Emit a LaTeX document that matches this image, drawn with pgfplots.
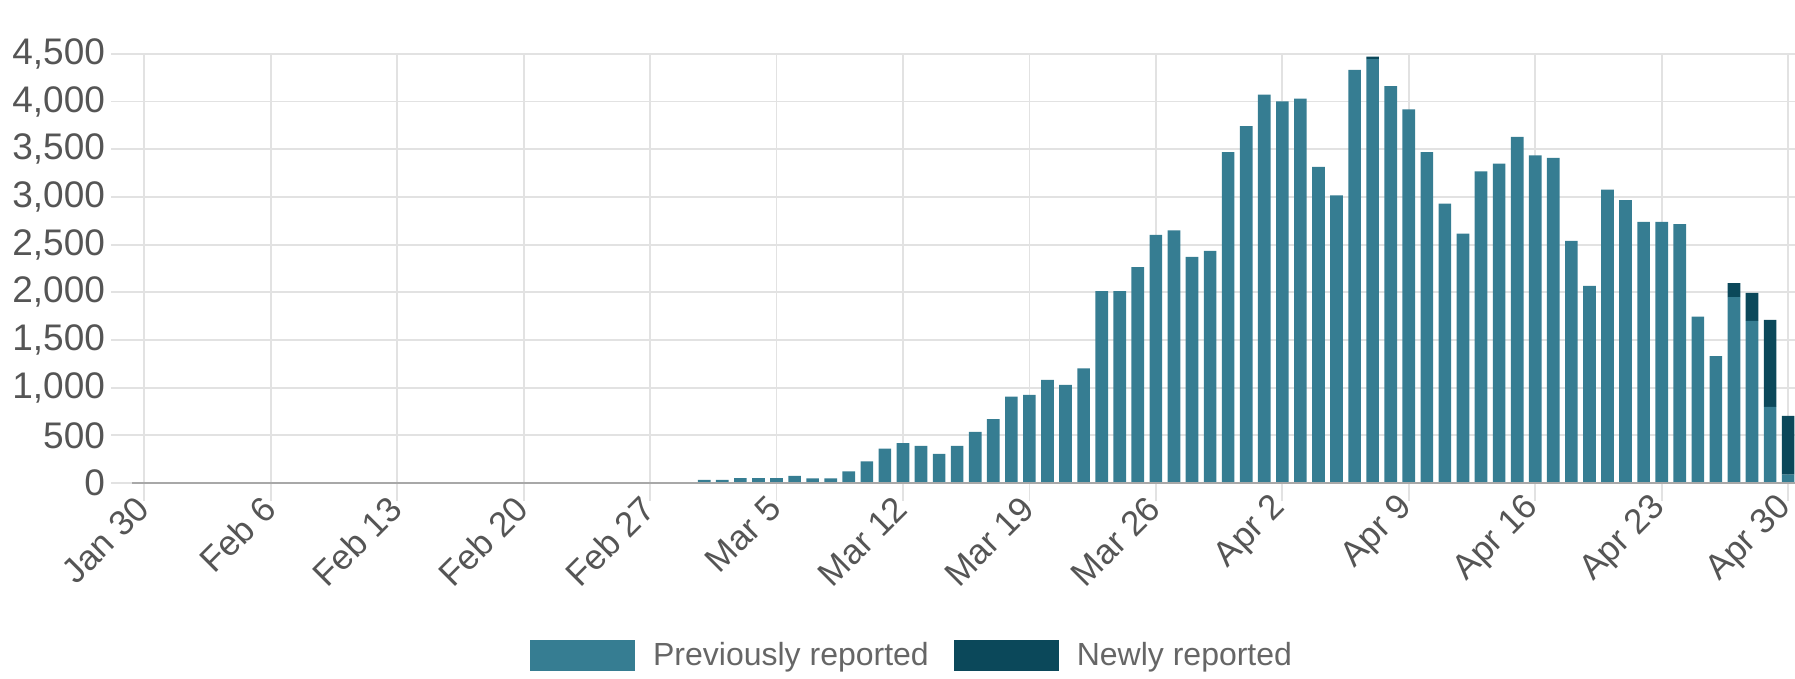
\documentclass[border=0pt]{standalone}
\usepackage{fontspec}
\setmainfont{Liberation Sans}
\usepackage{pgfplots}
\usepackage{pgfplotstable}
\pgfplotsset{compat=1.18}
\definecolor{prevc}{HTML}{367D92}
\definecolor{newc}{HTML}{0B485A}
\definecolor{gridc}{HTML}{E2E2E2}
\definecolor{zeroc}{HTML}{A8A8A8}
\definecolor{tickc}{HTML}{555555}
\definecolor{legc}{HTML}{666666}

% d = days since Jan 30, 2020
\pgfplotstableread{
d prev new
29 3 0
30 0 0
31 35 0
32 35 0
33 52 0
34 52 0
35 52 0
36 77 0
37 49 0
38 49 0
39 122 0
40 227 0
41 361 0
42 418 0
43 390 0
44 307 0
45 390 0
46 537 0
47 670 0
48 907 0
49 924 0
50 1081 0
51 1029 0
52 1203 0
53 2012 0
54 2012 0
55 2264 0
56 2602 0
57 2650 0
58 2371 0
59 2434 0
60 3470 0
61 3742 0
62 4071 0
63 4001 0
64 4030 0
65 3314 0
66 3017 0
67 4332 0
68 4445 25
69 4161 0
70 3917 0
71 3470 0
72 2930 0
73 2616 0
74 3268 0
75 3349 0
76 3628 0
77 3436 0
78 3408 0
79 2539 0
80 2068 0
81 3077 0
82 2965 0
83 2738 0
84 2738 0
85 2714 0
86 1745 0
87 1330 0
88 1950 145
89 1700 295
90 800 910
91 90 615
}\cases

\begin{document}
\begin{tikzpicture}
\begin{axis}[
  scale only axis, width=842pt, height=214.65pt,
  xmin=-1.84, xmax=91.38, ymin=0, ymax=4500,
  ybar stacked, bar width=0.7,
  axis line style={draw=none},
  xtick={0,7,...,91},
  xticklabels={Jan 30, Feb 6, Feb 13, Feb 20, Feb 27, Mar 5, Mar 12, Mar 19, Mar 26, Apr 2, Apr 9, Apr 16, Apr 23, Apr 30},
  ytick={0,500,...,4500},
  grid=major, grid style={gridc, line width=0.9pt},
  tick pos=left, tick align=outside, major tick length=9pt,
  x tick style={gridc, line width=0.9pt},
  y tick style={draw=none},
  tick label style={font=\fontsize{17.5}{20}\selectfont, text=tickc},
  x tick label style={rotate=45, anchor=east, inner sep=1pt},
  y tick label style={xshift=9.5pt, font=\fontsize{18.5}{21}\selectfont},
  yticklabel style={/pgf/number format/.cd, 1000 sep={,}, assume math mode=true},
  legend columns=2,
  legend style={draw=none, fill=none, at={(0.4763,-0.4006)}, anchor=center,
    font=\fontsize{16}{19}\selectfont, text=legc,
    /tikz/every odd column/.append style={column sep=7pt},
    /tikz/every even column/.append style={column sep=10.5pt}},
  legend cell align=left,
]
\draw[zeroc, line width=1pt] (axis cs:-0.67,0) -- (axis cs:91.38,0);
\addplot+[fill=prevc, draw=none,
  legend image code/.code={\fill[prevc] (0pt,-7.75pt) rectangle (52.5pt,7.75pt);}]
  table[x=d, y=prev] {\cases};
\addplot+[fill=newc, draw=none,
  legend image code/.code={\fill[newc] (0pt,-7.75pt) rectangle (52.5pt,7.75pt);}]
  table[x=d, y=new] {\cases};
\legend{Previously reported, Newly reported}
\end{axis}
\pgfresetboundingbox
\path[use as bounding box] (-55.5pt,-97.95pt) rectangle (842pt,241.55pt);
\end{tikzpicture}
\end{document}
